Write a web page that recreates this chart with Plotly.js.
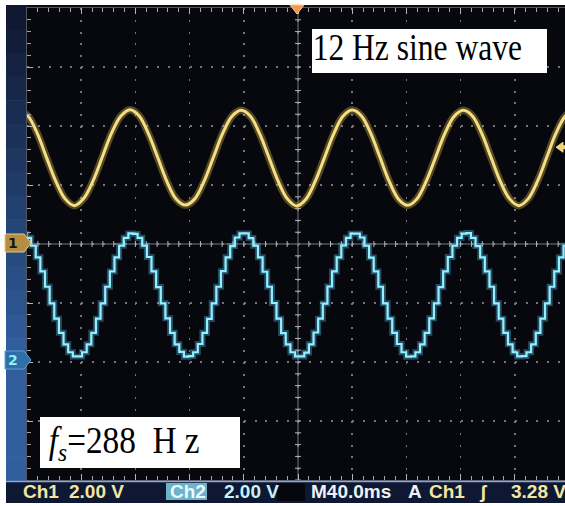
<!DOCTYPE html>
<html>
<head>
<meta charset="utf-8">
<script src="https://cdn.plot.ly/plotly-3.0.1.min.js"></script>
<style>html,body{margin:0;padding:0;background:#fff;}#chart{width:565px;height:506px;}</style>
</head>
<body>
<div id="chart"></div>
<script>
// ---------------- data ----------------
// Channel 1: 12 Hz sine (volts, ch1 ground = screen centre), sampled every 1/12 period
const ch1StartMs = -206;
const ch1StepMs = 82 / 12;
const ch1Volts = [
  4.52, 4.33, 3.74, 2.92, 2.12, 1.53, 1.30, 1.54, 2.13, 2.94, 3.75, 4.33,
  4.55, 4.34, 3.73, 2.93, 2.11, 1.52, 1.32, 1.53, 2.12, 2.93, 3.74, 4.32,
  4.53, 4.33, 3.74, 2.94, 2.13, 1.53, 1.29, 1.52, 2.12, 2.92, 3.73, 4.33,
  4.54, 4.34, 3.75, 2.94, 2.12, 1.52, 1.31, 1.53, 2.13, 2.93, 3.74, 4.32,
  4.53, 4.33, 3.74, 2.93, 2.12, 1.53, 1.30, 1.53, 2.12, 2.93, 3.75, 4.33,
  4.55
];
// Channel 2: sampled-and-held output (fs = 288 Hz), one value per held step (volts above ch2 ground)
const ch2StartMs = -207.2;
const ch2StepMs = 82 / 24;
const ch2Volts = [
  4.35, 4.35, 4.21, 3.94, 3.55, 3.07, 2.55, 1.99, 1.47, 0.99, 0.60, 0.33,
  0.19, 0.19, 0.33, 0.60, 0.99, 1.47, 1.99, 2.55, 3.07, 3.55, 3.94, 4.21,
  4.36, 4.34, 4.21, 3.94, 3.56, 3.07, 2.54, 1.99, 1.48, 0.99, 0.60, 0.34,
  0.18, 0.20, 0.33, 0.61, 0.99, 1.46, 1.99, 2.55, 3.08, 3.55, 3.93, 4.22,
  4.36, 4.36, 4.20, 3.94, 3.55, 3.06, 2.55, 2.00, 1.47, 0.98, 0.60, 0.33,
  0.19, 0.19, 0.32, 0.60, 1.00, 1.47, 1.98, 2.56, 3.07, 3.55, 3.95, 4.21,
  4.35, 4.35, 4.22, 3.94, 3.54, 3.07, 2.55, 1.99, 1.47, 0.99, 0.61, 0.33,
  0.18, 0.19, 0.33, 0.60, 0.99, 1.48, 1.99, 2.54, 3.07, 3.56, 3.94, 4.21,
  4.35, 4.37, 4.21, 3.93, 3.55, 3.07, 2.55, 1.99, 1.47, 0.99, 0.60, 0.33,
  0.19, 0.20, 0.33, 0.60, 0.99, 1.47, 1.99, 2.55, 3.07, 3.55, 3.94, 4.21
];
const ch2GroundDiv = -2;        // ch2 ground marker two divisions below centre
const voltsPerDiv = 2.00;
const msPerDiv = 40.0;
const triggerLevel = 3.28;

const titleText = '12 Hz sine wave';
const rateText = '<i>f</i><sub><i>s</i></sub>=288\u00A0\u00A0H\u00A0z';
const statusLabels = ['Ch1', '2.00 V', 'Ch2', '2.00 V', 'M40.0ms', 'A', 'Ch1', '\u0283', '3.28 V'];

// ---------------- geometry helpers (layout only) ----------------
const W = 565, H = 506, ML = 27, MT = 8, MB = 26;
const PW = W - ML, PH = H - MT - MB;           // 538 x 472
const pxPerMs = 54.2 / msPerDiv;
const xMin = -5 * msPerDiv;
const xMax = xMin + PW / pxPerMs;
function px2x(px) { return (px - ML) / PW; }
function px2y(py) { return (MT + PH - py) / PH; }

const ch1T = ch1Volts.map((_, i) => ch1StartMs + i * ch1StepMs);
const ch2T = ch2Volts.map((_, i) => ch2StartMs + i * ch2StepMs);
const ch2Y = ch2Volts.map(v => v + ch2GroundDiv * voltsPerDiv);

const yellow = '#f4de86', cyan = '#93f0ff';
const traces = [
  {x: ch1T, y: ch1Volts, mode: 'lines', line: {color: 'rgba(210,180,70,0.38)', width: 7.5, shape: 'spline', smoothing: 1}, hoverinfo: 'skip'},
  {x: ch1T, y: ch1Volts, mode: 'lines', line: {color: yellow, width: 3, shape: 'spline', smoothing: 1}, name: 'Ch1'},
  {x: ch2T, y: ch2Y, mode: 'lines', line: {color: 'rgba(90,200,255,0.35)', width: 6, shape: 'hv'}, hoverinfo: 'skip'},
  {x: ch2T, y: ch2Y, mode: 'lines', line: {color: cyan, width: 2.2, shape: 'hv'}, name: 'Ch2'}
];

const shapes = [];
// top dark strip above the graticule
shapes.push({type: 'rect', xref: 'paper', yref: 'paper', x0: px2x(6), x1: px2x(W), y0: 1, y1: px2y(5), fillcolor: '#0b0d18', line: {width: 0}, layer: 'below'});
// left bezel, banded gradient
const nb = 20, bTop = 5, bBot = 481;
function lerp(a, b, t) { return Math.round(a + (b - a) * t); }
for (let i = 0; i < nb; i++) {
  const t = Math.min(1, (i / (nb - 1)) * 1.35);
  const c = 'rgb(' + lerp(16, 48, t) + ',' + lerp(24, 94, t) + ',' + lerp(50, 158, t) + ')';
  const y0 = bTop + (bBot - bTop) * i / nb, y1 = bTop + (bBot - bTop) * (i + 1) / nb + 0.6;
  shapes.push({type: 'rect', xref: 'paper', yref: 'paper', x0: px2x(6), x1: 0, y0: px2y(y1), y1: px2y(y0), fillcolor: c, line: {width: 0}, layer: 'below'});
}
// status bar
shapes.push({type: 'rect', xref: 'paper', yref: 'paper', x0: px2x(6), x1: px2x(W), y0: px2y(503), y1: px2y(481), fillcolor: '#0f1833', line: {width: 0}, layer: 'below'});
shapes.push({type: 'line', xref: 'paper', yref: 'paper', x0: px2x(6), x1: px2x(W), y0: px2y(481.5), y1: px2y(481.5), line: {color: '#86a8d8', width: 1.5}, layer: 'above'});
shapes.push({type: 'rect', xref: 'paper', yref: 'paper', x0: px2x(277), x1: px2x(305), y0: px2y(501), y1: px2y(483), fillcolor: '#05070d', line: {width: 0}, layer: 'above'});
shapes.push({type: 'rect', xref: 'paper', yref: 'paper', x0: px2x(166), x1: px2x(207), y0: px2y(500), y1: px2y(483), fillcolor: '#6cb2c8', line: {width: 0}, layer: 'above'});
// centre cross lines and their ticks
shapes.push({type: 'line', xref: 'x', yref: 'y', x0: xMin, x1: xMax, y0: 0, y1: 0, line: {color: '#7a7a82', width: 1}, layer: 'between'});
shapes.push({type: 'line', xref: 'x', yref: 'y', x0: 0, x1: 0, y0: -4 * voltsPerDiv, y1: 4 * voltsPerDiv, line: {color: '#7a7a82', width: 1}, layer: 'between'});
for (let k = -25; k <= 25; k++) {
  if (k === 0) continue;
  shapes.push({type: 'line', xref: 'x', yref: 'y', x0: k * msPerDiv / 5, x1: k * msPerDiv / 5, ysizemode: 'pixel', yanchor: 0, y0: -3, y1: 3, line: {color: '#b4b4bc', width: 1}, layer: 'between'});
}
for (let k = -20; k <= 20; k++) {
  if (k === 0) continue;
  shapes.push({type: 'line', xref: 'x', yref: 'y', xsizemode: 'pixel', xanchor: 0, x0: -3, x1: 3, y0: k * voltsPerDiv / 5, y1: k * voltsPerDiv / 5, line: {color: '#b4b4bc', width: 1}, layer: 'between'});
}
// text boxes
shapes.push({type: 'rect', xref: 'paper', yref: 'paper', x0: px2x(312), x1: px2x(547), y0: px2y(73), y1: px2y(29), fillcolor: '#ffffff', line: {width: 0}, layer: 'above'});
shapes.push({type: 'rect', xref: 'paper', yref: 'paper', x0: px2x(40), x1: px2x(240), y0: px2y(468), y1: px2y(417), fillcolor: '#ffffff', line: {width: 0}, layer: 'above'});
// trigger position marker (top)
shapes.push({type: 'path', xref: 'paper', yref: 'paper', path: 'M ' + px2x(290) + ' ' + px2y(5) + ' L ' + px2x(304) + ' ' + px2y(5) + ' L ' + px2x(297) + ' ' + px2y(14) + ' Z', fillcolor: '#f39a48', line: {color: '#ffc090', width: 1}, layer: 'above'});
// trigger level arrow (right)
shapes.push({type: 'path', xref: 'paper', yref: 'y', ysizemode: 'pixel', yanchor: triggerLevel, path: 'M ' + px2x(556) + ' 0 L ' + px2x(563) + ' 5 L ' + px2x(563) + ' 1.5 L ' + px2x(566) + ' 1.5 L ' + px2x(566) + ' -1.5 L ' + px2x(563) + ' -1.5 L ' + px2x(563) + ' -5 Z', fillcolor: '#eed77a', line: {color: '#eed77a', width: 1}, layer: 'above'});
// channel ground markers (left)
function badge(yc, fill, edge) {
  return {type: 'path', xref: 'paper', yref: 'paper', path: 'M ' + px2x(5) + ' ' + px2y(yc - 9) + ' L ' + px2x(24) + ' ' + px2y(yc - 9) + ' L ' + px2x(31) + ' ' + px2y(yc) + ' L ' + px2x(24) + ' ' + px2y(yc + 9) + ' L ' + px2x(5) + ' ' + px2y(yc + 9) + ' Z', fillcolor: fill, line: {color: edge, width: 1}, layer: 'above'};
}
shapes.push(badge(243, '#b48e44', '#e8cc80'));
shapes.push(badge(360, '#2f6ea8', '#5aa0d0'));

const serif = 'Liberation Serif, Times New Roman, serif';
const annotations = [
  {xref: 'paper', yref: 'paper', x: px2x(311), y: px2y(47), xanchor: 'left', yanchor: 'middle', text: titleText, showarrow: false, font: {family: serif, size: 38, color: '#000'}},
  {xref: 'paper', yref: 'paper', x: px2x(47), y: px2y(443), xanchor: 'left', yanchor: 'middle', text: rateText, showarrow: false, font: {family: serif, size: 37, color: '#000'}},
  {xref: 'paper', yref: 'paper', x: px2x(13), y: px2y(243), xanchor: 'center', yanchor: 'middle', text: '<b>1</b>', showarrow: false, font: {family: 'DejaVu Sans', size: 14, color: '#1a1408'}},
  {xref: 'paper', yref: 'paper', x: px2x(13), y: px2y(360), xanchor: 'center', yanchor: 'middle', text: '<b>2</b>', showarrow: false, font: {family: 'DejaVu Sans', size: 14, color: '#8ff0f4'}}
];
const statusX = [21, 67, 168, 222, 309, 406, 427, 477, 509];
const statusColor = ['#f2e6a0', '#f2e6a0', '#e8fbff', '#c8f2fb', '#eef0f6', '#eef0f6', '#f2e6a0', '#f2e6a0', '#f2e6a0'];
statusLabels.forEach((s, i) => {
  annotations.push({xref: 'paper', yref: 'paper', x: px2x(statusX[i]), y: px2y(491), xanchor: 'left', yanchor: 'middle', text: '<b>' + s + '</b>', showarrow: false, font: {family: 'Liberation Sans, Arial, sans-serif', size: 19, color: statusColor[i]}});
});

const layout = {
  width: W, height: H, autosize: false,
  margin: {l: ML, r: 0, t: MT, b: MB, pad: 0},
  paper_bgcolor: '#ffffff', plot_bgcolor: '#07080e',
  showlegend: false,
  xaxis: {
    range: [xMin, xMax], showticklabels: false, zeroline: false,
    tick0: 0, dtick: msPerDiv, ticks: 'inside', ticklen: 6, tickwidth: 1, tickcolor: '#b4b4bc',
    mirror: 'ticks', showline: true, linecolor: '#55555d', linewidth: 1,
    showgrid: true, gridcolor: '#74747c', gridwidth: 1.6, griddash: '2px,9.8px',
    minor: {dtick: msPerDiv / 5, ticks: 'inside', ticklen: 4, tickwidth: 1, tickcolor: '#a4a4ac', showgrid: false},
    fixedrange: true
  },
  yaxis: {
    range: [-4 * voltsPerDiv, 4 * voltsPerDiv], showticklabels: false, zeroline: false,
    tick0: 0, dtick: voltsPerDiv, ticks: 'inside', ticklen: 6, tickwidth: 1, tickcolor: '#b4b4bc',
    showline: true, linecolor: '#55555d', linewidth: 1,
    showgrid: true, gridcolor: '#74747c', gridwidth: 1.6, griddash: '2px,8.84px',
    minor: {dtick: voltsPerDiv / 5, ticks: 'inside', ticklen: 4, tickwidth: 1, tickcolor: '#a4a4ac', showgrid: false},
    fixedrange: true
  },
  shapes: shapes,
  annotations: annotations
};

// horizontal squeeze of the two serif labels, as in the (non-uniformly scaled) photo
const squeeze = [0.83, 0.9];
Plotly.newPlot('chart', traces, layout, {displayModeBar: false, staticPlot: true}).then(function () {
  const groups = document.querySelectorAll('#chart g.annotation');
  squeeze.forEach(function (s, i) {
    const g = groups[i];
    if (!g) return;
    const txt = g.querySelector('text');
    if (txt) txt.setAttribute('transform', 'scale(' + s + ',1)');
  });
});
</script>
</body>
</html>
